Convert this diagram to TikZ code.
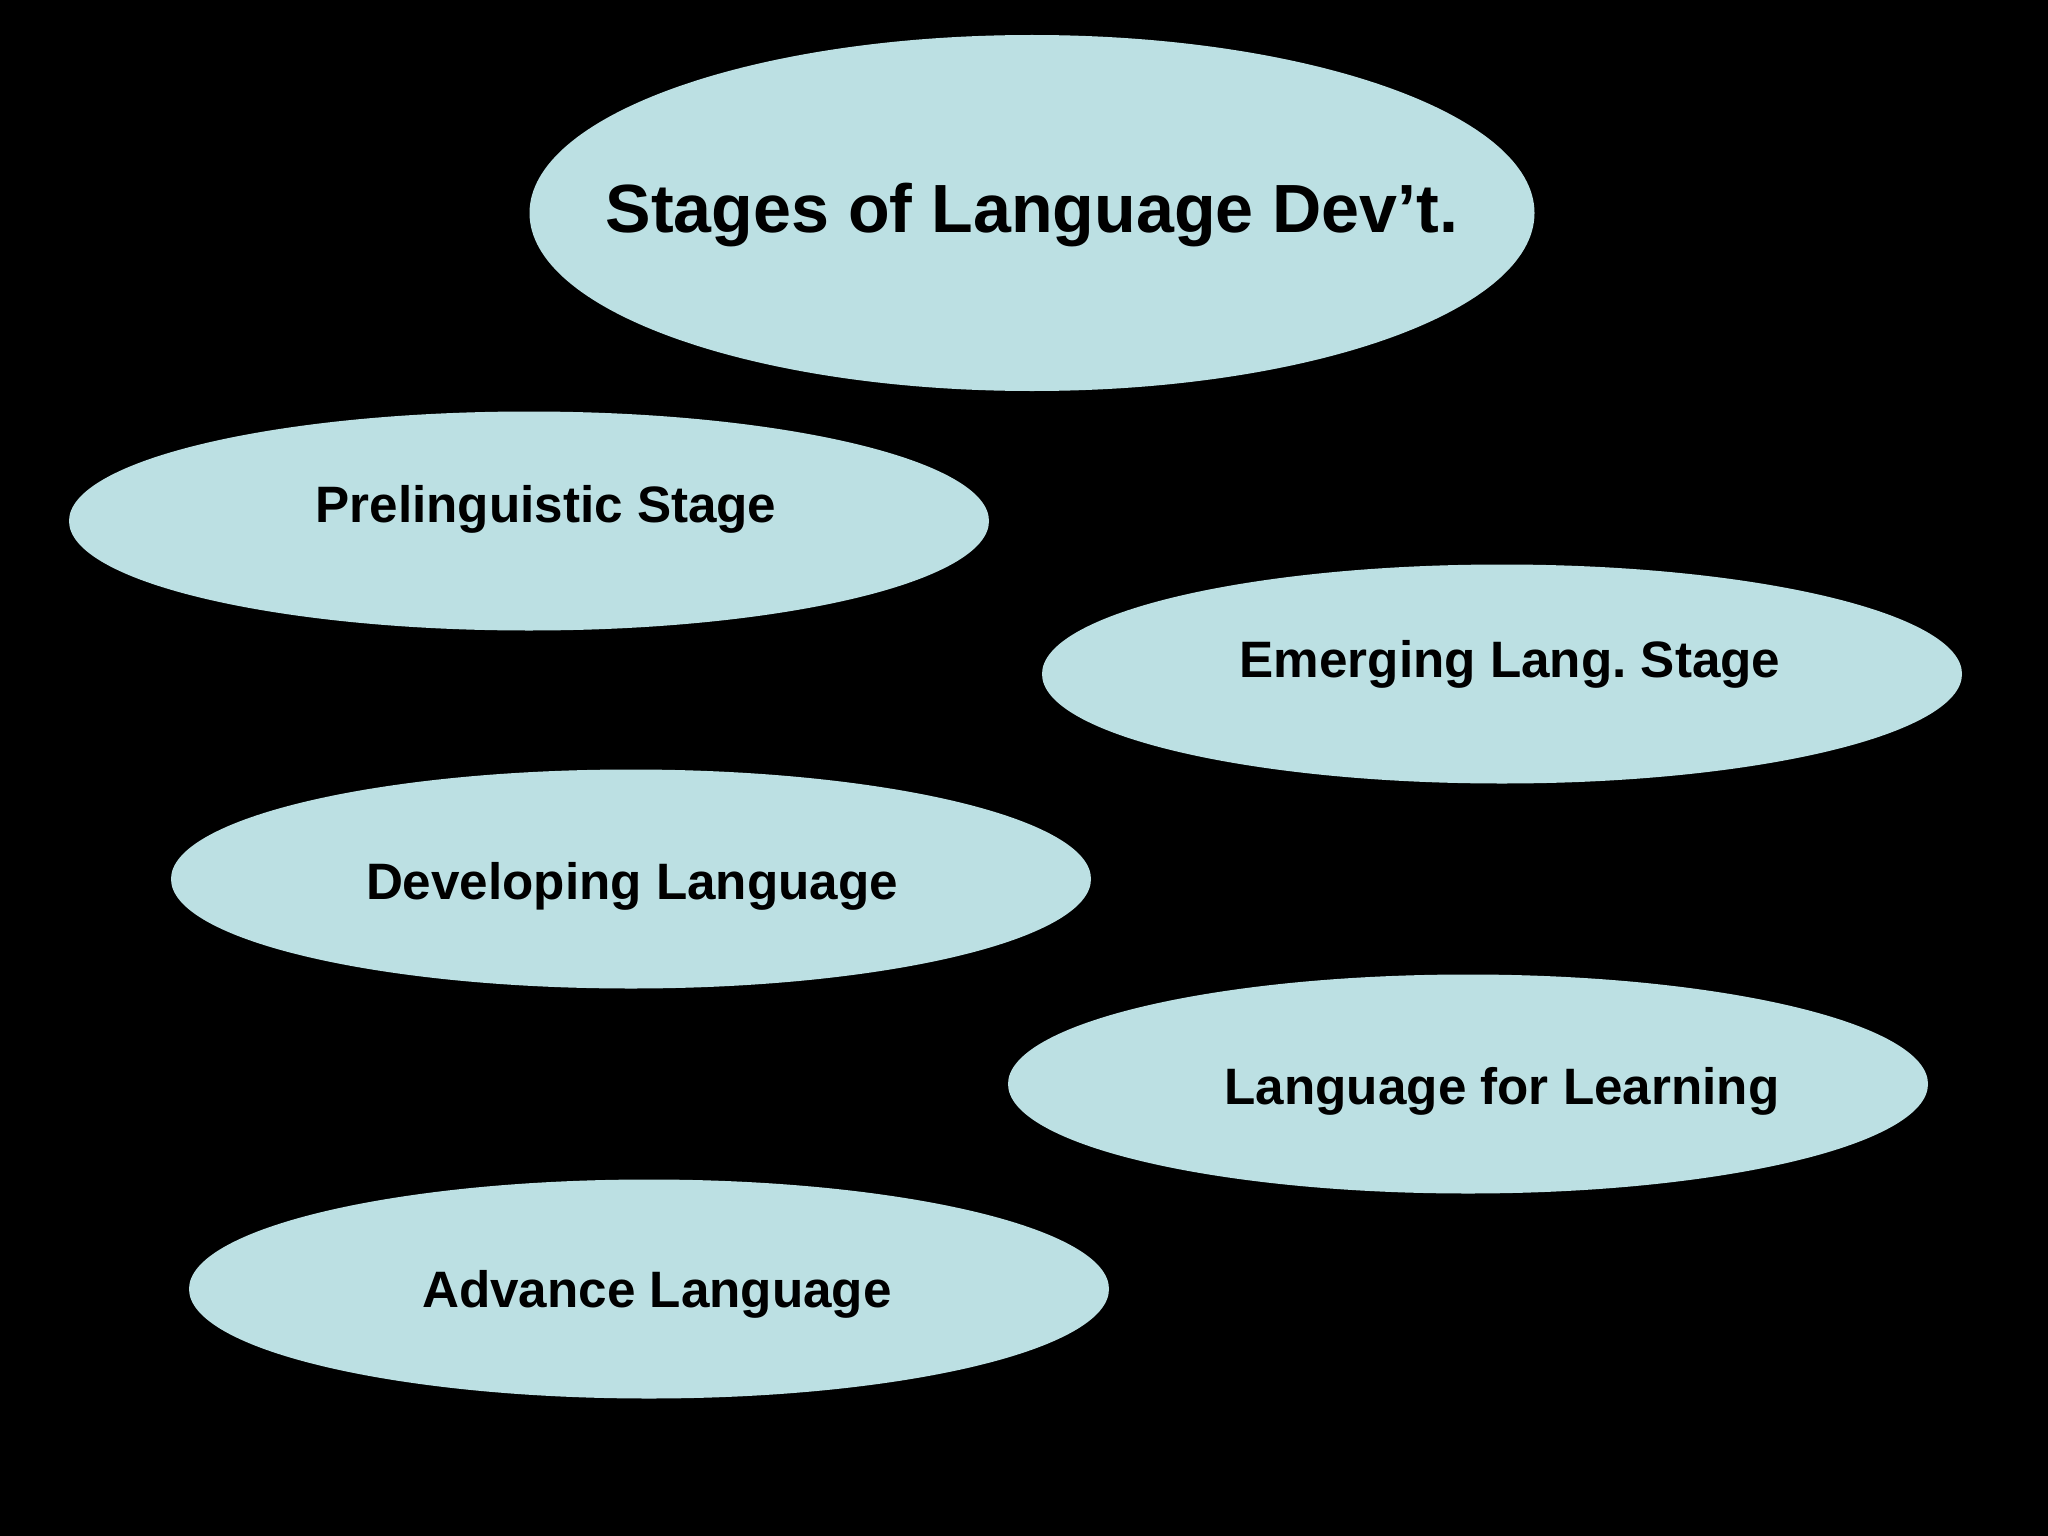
\documentclass[tikz,border=0pt]{standalone}
\usepackage{fontspec}
\setmainfont{Liberation Sans}
\usetikzlibrary{shapes.geometric}
\frenchspacing
\definecolor{pale}{HTML}{BCE0E3}
\tikzset{
  blob/.style={ellipse, fill=pale, draw=none, inner sep=0pt},
  small/.style={blob, minimum width=920pt, minimum height=219pt},
  lbl/.style={anchor=base, inner sep=0pt, font=\bfseries\fontsize{51.2}{60}\selectfont},
}
\begin{document}
\begin{tikzpicture}[x=1pt,y=-1pt]
\fill[black] (0,0) rectangle (2048,1536);
\useasboundingbox (0,0) rectangle (2048,1536);
\node[blob, minimum width=1005pt, minimum height=356pt] (e0) at (1032,213) {};
\node[anchor=base, inner sep=0pt, font=\bfseries\fontsize{68.2}{80}\selectfont] (t0) at (1032,232) {Stages of Language Dev’t.};
\node[small] (e1) at (529,521) {};
\node[lbl] (t1) at (546,522) {Prelinguistic Stage};
\node[small] (e2) at (1502,674) {};
\node[lbl] (t2) at (1510,677) {Emerging Lang.\ Stage};
\node[small] (e3) at (631,879) {};
\node[lbl] (t3) at (632,899) {Developing Language};
\node[small] (e4) at (1468,1084) {};
\node[lbl] (t4) at (1502,1104) {Language for Learning};
\node[small] (e5) at (649,1289) {};
\node[lbl] (t5) at (657,1307) {Advance Language};
\end{tikzpicture}
\end{document}
